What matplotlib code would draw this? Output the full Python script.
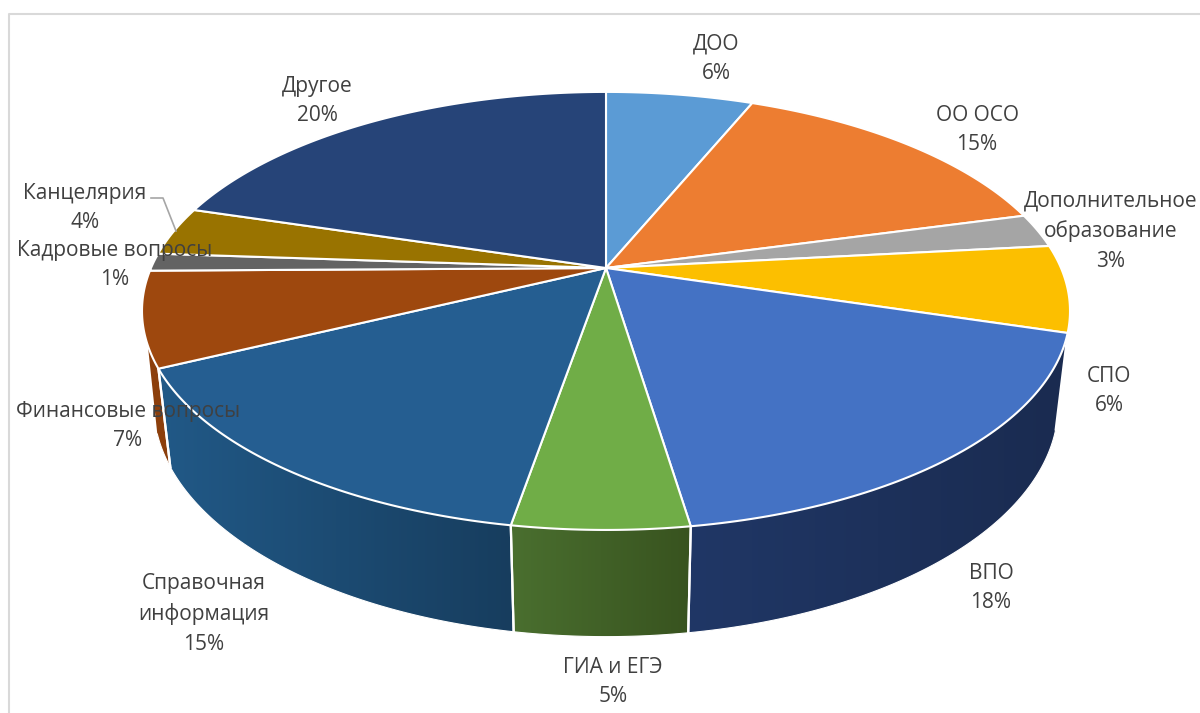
import numpy as np
import matplotlib
matplotlib.use('Agg')
import matplotlib.pyplot as plt
from matplotlib import colors as mcolors
from matplotlib.patches import Polygon

plt.rcParams['font.family'] = ['Open Sans', 'DejaVu Sans']

categories = ['ДОО', 'ОО ОСО', 'Дополнительное\nобразование', 'СПО', 'ВПО', 'ГИА и ЕГЭ',
              'Справочная\nинформация', 'Финансовые вопросы', 'Кадровые вопросы', 'Канцелярия', 'Другое']
# printed percentages
percent_labels = [6, 15, 3, 6, 18, 5, 15, 7, 1, 4, 20]
shares = [6.2, 14.6, 2.5, 6.4, 17.9, 5.1, 15.1, 7.0, 1.3, 3.6, 20.3]
top_colors = ['#5b9bd5', '#ed7d31', '#a5a5a5', '#fcbf00', '#4472c4', '#70ad47',
              '#255e91', '#9e480e', '#636363', '#997300', '#264478']
# side wall shades at the left and the right of each visible slice
wall_left = {4: '#203766', 5: '#4a6f2f', 6: '#215987', 7: '#8c3f0c'}
wall_right = {4: '#1a2b50', 5: '#38531f', 6: '#173d5e', 7: '#8c3f0c'}
label_x = [716, 977, 1111, 1109, 991, 613, 204, 128, 115, 85, 317]
label_y = [59, 130, 231, 391, 588, 682, 614, 426, 265, 208, 101]

# perspective of the disc, in pixels
cx, cy = 606, 268
A, B, k = 455, 210.6, 0.196
depth, shrink = 95, 0.025


def project(t, z=0):
    # t is the clockwise angle from the top in radians, z=1 is the lower face
    x, y = np.sin(t), np.cos(t)
    w = 1 + k * y + shrink * z
    return cx + A * x / w, cy - (B * y - depth * z) / w


fig = plt.figure(figsize=(12, 7.13), dpi=100)
ax = fig.add_axes([0, 0, 1, 1])

# chart frame, cut by the picture on the right and at the bottom
ax.plot([8.5, 8.5, 1200], [713, 13.5, 13.5], color='#d9d9d9', lw=1.5, zorder=1)

edges = np.radians(np.concatenate([[0], np.cumsum(shares)]) * 3.6)

for i in wall_left:
    t_top = np.linspace(edges[i], edges[i + 1], 80)
    t_base = t_top
    if i == 7:
        # the brown wall turns away, its outer edge runs along the silhouette
        t_top = np.linspace(edges[i], np.radians(262), 80)
        t_base = np.linspace(edges[i], np.radians(252), 80)
    xt, yt = project(t_top)
    xb, yb = project(t_base, 1)
    outline = np.c_[np.r_[xt, xb[::-1]], np.r_[yt, yb[::-1]]]
    cmap = mcolors.LinearSegmentedColormap.from_list('wall', [wall_left[i], wall_right[i]])
    im = ax.imshow(np.linspace(0, 1, 256)[None, :], cmap=cmap, aspect='auto',
                   extent=[outline[:, 0].min(), outline[:, 0].max(), outline[:, 1].max(), outline[:, 1].min()],
                   interpolation='bilinear', zorder=2)
    im.set_clip_path(Polygon(outline, transform=ax.transData))
    ax.plot(xb, yb, color='white', lw=0.8, zorder=3)
    ax.plot([xt[0], xb[0]], [yt[0], yb[0]], color='white', lw=1.6, zorder=3)
    if i != 7:
        ax.plot([xt[-1], xb[-1]], [yt[-1], yb[-1]], color='white', lw=1.6, zorder=3)

for i in range(len(shares)):
    t = np.linspace(edges[i], edges[i + 1], 80)
    xs, ys = project(t)
    ax.fill(np.r_[cx, xs], np.r_[cy, ys], facecolor=top_colors[i], edgecolor='white',
            lw=1.5, joinstyle='round', zorder=4)

# leader line of the Канцелярия label
ax.plot([151, 163, 176], [198, 198, 231], color='#a6a6a6', lw=1.2, zorder=5)

for i in range(len(categories)):
    ax.text(label_x[i], label_y[i], '%s\n%d%%' % (categories[i], percent_labels[i]),
            ha='center', va='center', ma='center', fontsize=15, color='#404040',
            linespacing=1.55, zorder=6)

ax.set_xlim(0, 1200)
ax.set_ylim(713, 0)
ax.axis('off')

plt.savefig('out.png', dpi=100)
